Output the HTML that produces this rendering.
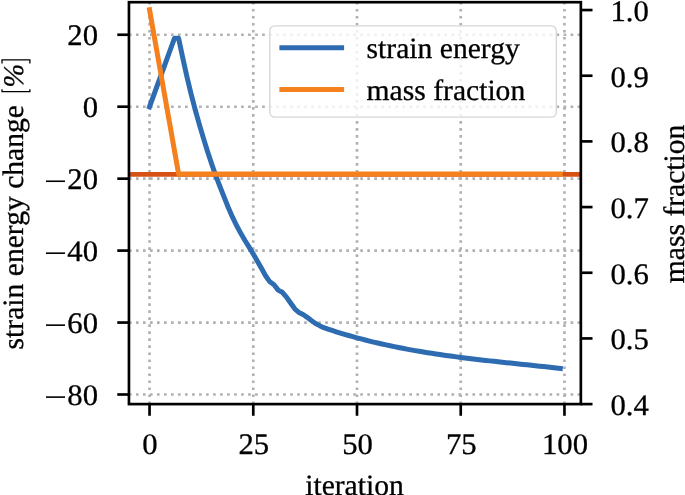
<!DOCTYPE html>
<html><head><meta charset="utf-8"><style>
html,body{margin:0;padding:0;background:#fff;overflow:hidden;}
svg{display:block;will-change:transform;}
text{font-family:"Liberation Serif",serif;text-rendering:geometricPrecision;stroke:#000;stroke-width:0.3px;}
</style></head><body>
<svg width="685" height="495" viewBox="0 0 685 495">
<rect width="685" height="495" fill="#fff"/>
<g stroke="#b0b0b0" stroke-width="2.65" stroke-dasharray="2.65 4.36" fill="none">
<line x1="149.54" y1="404.1" x2="149.54" y2="2.2"/>
<line x1="253.27" y1="404.1" x2="253.27" y2="2.2"/>
<line x1="357.00" y1="404.1" x2="357.00" y2="2.2"/>
<line x1="460.73" y1="404.1" x2="460.73" y2="2.2"/>
<line x1="564.46" y1="404.1" x2="564.46" y2="2.2"/>
<line x1="128.95" y1="34.75" x2="580.85" y2="34.75"/>
<line x1="128.95" y1="106.70" x2="580.85" y2="106.70"/>
<line x1="128.95" y1="178.65" x2="580.85" y2="178.65"/>
<line x1="128.95" y1="250.60" x2="580.85" y2="250.60"/>
<line x1="128.95" y1="322.55" x2="580.85" y2="322.55"/>
<line x1="128.95" y1="394.50" x2="580.85" y2="394.50"/>
</g>
<polyline points="149.54,106.70 153.69,95.31 157.84,83.92 161.99,72.52 166.14,61.13 170.29,49.74 174.44,38.35 178.58,38.35 182.73,57.77 186.88,76.48 191.03,93.75 195.18,109.58 199.33,124.33 203.48,138.36 207.63,151.67 211.78,164.26 215.93,176.13 220.08,186.92 224.23,197.36 228.37,207.79 232.52,217.14 236.67,225.78 240.82,233.33 244.97,240.53 249.12,247.18 253.27,254.02 257.42,261.19 261.57,268.59 265.72,275.97 269.87,281.83 274.02,284.82 278.17,290.08 282.31,292.31 286.46,297.09 290.61,303.03 294.76,308.78 298.91,312.49 303.06,314.53 307.21,317.31 311.36,320.54 315.51,323.48 319.66,325.64 323.81,327.65 327.96,329.07 332.10,330.43 336.25,331.76 340.40,333.05 344.55,334.30 348.70,335.52 352.85,336.70 357.00,337.84 361.15,338.95 365.30,340.02 369.45,341.06 373.60,342.07 377.75,343.05 381.90,344.00 386.04,344.92 390.19,345.81 394.34,346.67 398.49,347.51 402.64,348.32 406.79,349.10 410.94,349.86 415.09,350.60 419.24,351.32 423.39,352.01 427.54,352.68 431.69,353.33 435.83,353.97 439.98,354.58 444.13,355.18 448.28,355.76 452.43,356.33 456.58,356.88 460.73,357.42 464.88,357.94 469.03,358.45 473.18,358.95 477.33,359.45 481.48,359.92 485.63,360.40 489.77,360.86 493.92,361.32 498.07,361.77 502.22,362.22 506.37,362.66 510.52,363.10 514.67,363.53 518.82,363.96 522.97,364.40 527.12,364.83 531.27,365.26 535.42,365.70 539.56,366.14 543.71,366.58 547.86,367.02 552.01,367.47 556.16,367.93 560.31,368.39" fill="none" stroke="#2e6cb2" stroke-width="5.0" stroke-linejoin="round" stroke-linecap="square"/>
<g>
<rect x="269.8" y="25.8" width="286.5" height="91.4" rx="5" ry="5" fill="#fff" fill-opacity="0.8" stroke="#d6d6d6" stroke-width="1.3"/>
<line x1="279.4" y1="47.7" x2="344.1" y2="47.7" stroke="#2e6cb2" stroke-width="5.0"/>
<line x1="279.4" y1="89.6" x2="344.1" y2="89.6" stroke="#f5801e" stroke-width="5.0"/>
<text x="366.6" y="58.0" font-size="29.6">strain energy</text>
<text x="366.6" y="99.7" font-size="29.6">mass fraction</text>
</g>
<line x1="128.95" y1="174.4" x2="580.85" y2="174.4" stroke="#d75014" stroke-width="4.6"/>
<polyline points="149.54,9.75 153.69,33.21 157.84,56.66 161.99,80.12 166.14,103.57 170.29,127.03 174.44,150.48 178.58,173.94 182.73,173.94 186.88,173.94 191.03,173.94 195.18,173.94 199.33,173.94 203.48,173.94 207.63,173.94 211.78,173.94 215.93,173.94 220.08,173.94 224.23,173.94 228.37,173.94 232.52,173.94 236.67,173.94 240.82,173.94 244.97,173.94 249.12,173.94 253.27,173.94 257.42,173.94 261.57,173.94 265.72,173.94 269.87,173.94 274.02,173.94 278.17,173.94 282.31,173.94 286.46,173.94 290.61,173.94 294.76,173.94 298.91,173.94 303.06,173.94 307.21,173.94 311.36,173.94 315.51,173.94 319.66,173.94 323.81,173.94 327.96,173.94 332.10,173.94 336.25,173.94 340.40,173.94 344.55,173.94 348.70,173.94 352.85,173.94 357.00,173.94 361.15,173.94 365.30,173.94 369.45,173.94 373.60,173.94 377.75,173.94 381.90,173.94 386.04,173.94 390.19,173.94 394.34,173.94 398.49,173.94 402.64,173.94 406.79,173.94 410.94,173.94 415.09,173.94 419.24,173.94 423.39,173.94 427.54,173.94 431.69,173.94 435.83,173.94 439.98,173.94 444.13,173.94 448.28,173.94 452.43,173.94 456.58,173.94 460.73,173.94 464.88,173.94 469.03,173.94 473.18,173.94 477.33,173.94 481.48,173.94 485.63,173.94 489.77,173.94 493.92,173.94 498.07,173.94 502.22,173.94 506.37,173.94 510.52,173.94 514.67,173.94 518.82,173.94 522.97,173.94 527.12,173.94 531.27,173.94 535.42,173.94 539.56,173.94 543.71,173.94 547.86,173.94 552.01,173.94 556.16,173.94 560.31,173.94" fill="none" stroke="#f5801e" stroke-width="5.0" stroke-linejoin="round" stroke-linecap="square"/>
<rect x="128.95" y="2.2" width="451.90" height="401.90" fill="none" stroke="#000" stroke-width="2.67" stroke-linejoin="miter"/>
<g stroke="#000" stroke-width="2.67">
<line x1="149.54" y1="404.1" x2="149.54" y2="415.77"/>
<line x1="253.27" y1="404.1" x2="253.27" y2="415.77"/>
<line x1="357.00" y1="404.1" x2="357.00" y2="415.77"/>
<line x1="460.73" y1="404.1" x2="460.73" y2="415.77"/>
<line x1="564.46" y1="404.1" x2="564.46" y2="415.77"/>
<line x1="117.28" y1="34.75" x2="128.95" y2="34.75"/>
<line x1="117.28" y1="106.70" x2="128.95" y2="106.70"/>
<line x1="117.28" y1="178.65" x2="128.95" y2="178.65"/>
<line x1="117.28" y1="250.60" x2="128.95" y2="250.60"/>
<line x1="117.28" y1="322.55" x2="128.95" y2="322.55"/>
<line x1="117.28" y1="394.50" x2="128.95" y2="394.50"/>
<line x1="580.85" y1="10.05" x2="592.52" y2="10.05"/>
<line x1="580.85" y1="75.72" x2="592.52" y2="75.72"/>
<line x1="580.85" y1="141.40" x2="592.52" y2="141.40"/>
<line x1="580.85" y1="207.08" x2="592.52" y2="207.08"/>
<line x1="580.85" y1="272.75" x2="592.52" y2="272.75"/>
<line x1="580.85" y1="338.43" x2="592.52" y2="338.43"/>
<line x1="580.85" y1="404.10" x2="592.52" y2="404.10"/>
</g>
<g font-size="29.8" fill="#000">
<text transform="translate(98.00,44.75) scale(1.03,1)" text-anchor="end">20</text>
<text transform="translate(98.00,116.70) scale(1.03,1)" text-anchor="end">0</text>
<text transform="translate(98.00,188.65) scale(1.03,1)" text-anchor="end">20</text>
<rect x="46.00" y="180.45" width="19" height="1.6"/>
<text transform="translate(98.00,260.60) scale(1.03,1)" text-anchor="end">40</text>
<rect x="46.00" y="252.40" width="19" height="1.6"/>
<text transform="translate(98.00,332.55) scale(1.03,1)" text-anchor="end">60</text>
<rect x="46.00" y="324.35" width="19" height="1.6"/>
<text transform="translate(98.00,404.50) scale(1.03,1)" text-anchor="end">80</text>
<rect x="46.00" y="396.30" width="19" height="1.6"/>
<text transform="translate(610.50,20.85) scale(1.03,1)">1.0</text>
<text transform="translate(610.50,86.52) scale(1.03,1)">0.9</text>
<text transform="translate(610.50,152.20) scale(1.03,1)">0.8</text>
<text transform="translate(610.50,217.88) scale(1.03,1)">0.7</text>
<text transform="translate(610.50,283.55) scale(1.03,1)">0.6</text>
<text transform="translate(610.50,349.23) scale(1.03,1)">0.5</text>
<text transform="translate(610.50,414.90) scale(1.03,1)">0.4</text>
<text transform="translate(150.04,453.90) scale(1.03,1)" text-anchor="middle">0</text>
<text transform="translate(253.77,453.90) scale(1.03,1)" text-anchor="middle">25</text>
<text transform="translate(357.50,453.90) scale(1.03,1)" text-anchor="middle">50</text>
<text transform="translate(461.23,453.90) scale(1.03,1)" text-anchor="middle">75</text>
<text transform="translate(564.96,453.90) scale(1.03,1)" text-anchor="middle">100</text>
</g>
<text x="354.5" y="494.6" font-size="29.6" text-anchor="middle">iteration</text>
<text transform="translate(23.1,349.4) rotate(-90)" font-size="29.6">strain energy change</text>
<path d="M2.0,63.6 V59.9 H29.9 V63.6 M2.0,89.2 V91.7 H29.9 V89.2" fill="none" stroke="#000" stroke-width="1.3"/>
<text transform="translate(22.6,75.7) rotate(-90)" font-size="28.5" font-style="italic" text-anchor="middle">%</text>
<text transform="translate(683.7,203.9) rotate(-90)" font-size="29.6" text-anchor="middle">mass fraction</text>
</svg>
</body></html>
